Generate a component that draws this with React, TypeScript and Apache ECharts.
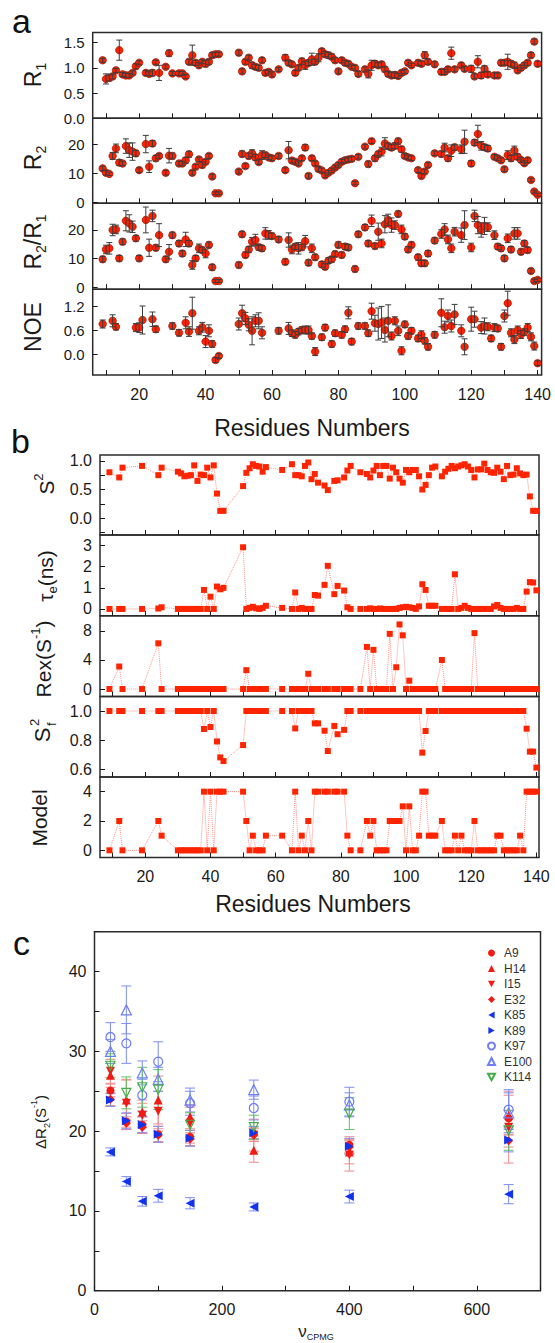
import React, { useEffect, useRef } from "react";
import * as echarts from "echarts";

const FONT = "'Liberation Sans', Arial, Helvetica, sans-serif";
const INK = "#1a1a1a";

// ---------------- Panel a : [residue, value, error] ----------------
const R1_PTS = [
  [9, 1.15, 0.04], [10, 0.78, 0.1], [11, 0.8, 0.06], [12, 0.83, 0.05], [13, 0.95, 0.04], [14, 1.35, 0.2], [15, 0.87, 0.04], [16, 0.85, 0.04], [17, 0.85, 0.04], [18, 0.9, 0.04],
  [19, 1.03, 0.05], [20, 1.1, 0.04], [22, 0.9, 0.05], [23, 0.88, 0.04], [24, 0.9, 0.06], [25, 1.11, 0.04], [26, 0.9, 0.15], [28, 1.02, 0.04],
  [29, 1.29, 0.06], [30, 0.89, 0.04], [32, 0.89, 0.04], [33, 0.89, 0.04], [34, 0.83, 0.04], [35, 1.12, 0.05], [36, 1.25, 0.2], [37, 1.1, 0.05], [38, 1.05, 0.05],
  [39, 1.12, 0.04], [40, 1.08, 0.06], [41, 1.12, 0.05], [42, 1.25, 0.05], [43, 1.27, 0.04], [44, 1.27, 0.04],
  [50, 1.3, 0.05], [51, 0.93, 0.05], [52, 1.12, 0.05], [53, 1.2, 0.05], [54, 1.05, 0.06], [55, 1.02, 0.05], [56, 1.0, 0.05], [57, 1.15, 0.05], [58, 0.9, 0.05],
  [59, 0.92, 0.04], [60, 0.87, 0.05], [62, 0.97, 0.04], [64, 1.2, 0.06], [65, 1.1, 0.05], [66, 1.07, 0.05], [67, 0.9, 0.05], [68, 1.0, 0.05],
  [69, 1.13, 0.06], [70, 1.05, 0.08], [71, 1.1, 0.06], [72, 1.17, 0.12], [73, 1.12, 0.05], [74, 1.2, 0.08], [75, 1.33, 0.05], [76, 1.27, 0.05], [77, 1.25, 0.06], [78, 1.22, 0.05],
  [79, 1.15, 0.05], [80, 0.93, 0.05], [81, 1.15, 0.05], [82, 1.1, 0.05], [83, 1.08, 0.05], [84, 1.02, 0.04], [85, 1.0, 0.05], [86, 0.88, 0.05], [88, 0.97, 0.05],
  [89, 0.88, 0.08], [90, 1.05, 0.1], [91, 1.08, 0.06], [92, 1.05, 0.05], [93, 1.07, 0.05], [94, 0.97, 0.05], [95, 0.88, 0.05], [96, 0.85, 0.05], [97, 0.86, 0.06], [98, 0.84, 0.05],
  [99, 0.9, 0.05], [100, 0.93, 0.04], [101, 1.1, 0.05], [102, 1.05, 0.04], [104, 1.1, 0.05], [105, 1.08, 0.05], [106, 1.25, 0.07], [107, 1.12, 0.05],
  [109, 1.07, 0.05], [111, 0.92, 0.05], [112, 0.92, 0.05], [113, 0.97, 0.05], [114, 1.29, 0.12], [115, 0.97, 0.05], [117, 1.05, 0.05], [118, 0.98, 0.05],
  [120, 0.98, 0.07], [121, 0.83, 0.05], [122, 1.12, 0.12], [123, 0.85, 0.06], [124, 0.98, 0.06], [125, 0.87, 0.05], [127, 0.85, 0.05], [128, 0.85, 0.05],
  [129, 1.1, 0.05], [130, 1.1, 0.05], [131, 1.12, 0.15], [132, 1.08, 0.06], [133, 1.05, 0.06], [134, 0.95, 0.05], [135, 1.0, 0.05], [136, 1.05, 0.05], [137, 1.1, 0.05], [138, 1.25, 0.05],
  [139, 1.52, 0.05], [140, 1.08, 0.05],
];

const R2_PTS = [
  [9, 11.7, 0.8], [10, 10.2, 0.8], [11, 9.8, 0.6], [12, 16.0, 1.2], [13, 18.6, 1.5], [14, 13.7, 1.0], [15, 13.4, 0.8], [16, 19.4, 2.5], [17, 18.0, 2.5], [18, 17.5, 3.0],
  [19, 16.9, 1.0], [20, 11.1, 0.8], [22, 20.1, 3.0], [23, 12.3, 2.0], [24, 20.3, 1.0], [25, 15.2, 1.0], [26, 16.0, 0.8], [28, 10.2, 0.8],
  [29, 16.1, 2.5], [30, 16.0, 1.0], [32, 13.4, 0.8], [33, 13.4, 0.8], [34, 14.5, 1.0], [35, 16.6, 1.0], [36, 10.2, 0.8], [37, 12.3, 0.8], [38, 14.8, 0.8],
  [39, 12.9, 1.0], [40, 14.0, 0.8], [41, 16.0, 0.8], [42, 8.9, 0.8], [43, 3.1, 0.5], [44, 3.1, 0.5],
  [50, 10.6, 0.8], [51, 16.7, 1.0], [52, 12.5, 0.8], [53, 16.0, 1.0], [54, 16.9, 1.2], [55, 15.5, 1.0], [56, 13.9, 0.8], [57, 16.3, 1.5], [58, 16.3, 0.8],
  [59, 15.5, 0.8], [60, 15.2, 0.8], [62, 16.0, 0.8], [64, 11.1, 0.8], [65, 18.0, 3.0], [66, 14.4, 0.8], [67, 14.0, 0.8], [68, 13.4, 0.8],
  [69, 15.2, 0.8], [70, 18.9, 1.0], [71, 9.1, 0.8], [72, 15.2, 0.8], [73, 13.4, 0.8], [74, 11.5, 0.8], [75, 11.0, 0.8], [76, 9.3, 0.8], [77, 10.2, 0.8], [78, 11.0, 0.8],
  [79, 12.0, 0.8], [80, 12.9, 0.8], [81, 14.0, 0.8], [82, 14.5, 0.8], [83, 14.8, 0.8], [84, 15.0, 0.8], [85, 6.6, 0.6], [86, 15.7, 0.8], [88, 19.2, 0.8],
  [89, 13.2, 1.0], [90, 21.1, 0.8], [91, 15.2, 1.0], [92, 16.6, 1.0], [93, 17.5, 1.5], [94, 20.3, 2.0], [95, 19.4, 1.0], [96, 18.9, 1.0], [97, 19.5, 1.0], [98, 21.1, 1.0],
  [99, 18.3, 1.0], [100, 16.0, 0.8], [101, 15.5, 0.8], [102, 15.2, 0.8], [104, 11.1, 0.8], [105, 9.1, 0.8], [106, 10.6, 0.8], [107, 12.9, 0.8],
  [109, 16.9, 0.8], [111, 16.7, 1.0], [112, 18.9, 1.5], [113, 15.2, 1.0], [114, 17.8, 2.0], [115, 19.0, 1.0], [117, 18.3, 1.5], [118, 20.9, 4.0],
  [120, 13.4, 1.0], [121, 20.6, 1.0], [122, 23.6, 3.0], [123, 19.5, 1.5], [124, 19.0, 1.0], [125, 18.6, 1.0], [127, 15.7, 0.8], [128, 15.2, 0.8],
  [129, 14.5, 0.8], [130, 11.4, 0.8], [131, 16.3, 1.5], [132, 15.2, 1.0], [133, 17.9, 1.5], [134, 15.7, 1.0], [135, 14.6, 0.8], [136, 13.5, 0.8], [137, 14.5, 0.8], [138, 7.7, 0.6],
  [139, 3.7, 0.5], [140, 2.6, 0.5],
];

const R2R1_PTS = [
  [9, 9.8, 1.0], [10, 13.2, 1.5], [11, 13.6, 2.0], [12, 20.0, 2.0], [13, 20.2, 1.5], [14, 10.1, 1.0], [15, 15.9, 1.0], [16, 23.2, 3.5], [17, 22.3, 3.0], [18, 21.1, 2.0],
  [19, 17.1, 1.0], [20, 10.1, 1.0], [22, 23.5, 4.5], [23, 13.8, 3.0], [24, 24.9, 2.0], [25, 13.8, 1.0], [26, 18.2, 4.0], [28, 9.8, 1.0],
  [29, 12.4, 2.5], [30, 18.2, 1.0], [32, 15.3, 1.0], [33, 11.8, 1.0], [34, 16.7, 2.5], [35, 15.3, 1.0], [36, 7.8, 1.5], [37, 10.1, 1.0], [38, 13.6, 1.5],
  [39, 13.0, 1.0], [40, 11.8, 1.5], [41, 14.8, 1.0], [42, 7.0, 1.0], [43, 2.2, 0.5], [44, 2.2, 0.5],
  [50, 7.8, 1.0], [51, 18.5, 1.0], [52, 11.3, 1.0], [53, 13.2, 1.0], [54, 15.9, 1.5], [55, 16.5, 2.0], [56, 14.0, 1.0], [57, 13.6, 1.0], [58, 18.8, 2.0],
  [59, 18.3, 1.5], [60, 17.9, 1.0], [62, 16.7, 1.0], [64, 8.9, 1.0], [65, 16.5, 2.5], [66, 13.2, 1.5], [67, 14.2, 1.0], [68, 13.6, 2.0],
  [69, 14.0, 1.0], [70, 16.1, 2.0], [71, 8.6, 1.0], [72, 13.6, 1.5], [73, 10.5, 1.0], [75, 8.0, 1.0], [76, 7.2, 1.0], [77, 9.3, 1.0], [78, 9.8, 1.0],
  [79, 11.6, 1.0], [80, 14.8, 1.0], [81, 11.3, 1.0], [82, 14.2, 1.0], [83, 13.9, 1.0], [85, 6.4, 1.0], [86, 18.5, 1.0], [88, 20.9, 1.0],
  [89, 15.3, 1.0], [90, 23.2, 2.0], [91, 14.4, 1.0], [92, 19.4, 3.0], [93, 15.3, 1.5], [94, 22.0, 3.0], [95, 23.5, 2.0], [96, 21.7, 2.5], [97, 21.7, 1.5], [98, 25.6, 1.0],
  [99, 20.2, 1.5], [100, 17.7, 1.0], [101, 13.2, 1.0], [102, 14.8, 1.0], [104, 10.5, 1.0], [105, 8.4, 1.0], [106, 8.4, 1.0], [107, 11.8, 1.0],
  [109, 16.3, 1.0], [111, 18.6, 1.5], [112, 20.2, 2.0], [113, 16.7, 1.5], [114, 13.6, 1.5], [115, 19.4, 1.5], [117, 18.2, 2.5], [118, 21.7, 5.0],
  [120, 13.9, 1.5], [121, 24.9, 2.0], [122, 21.7, 3.0], [123, 20.0, 2.5], [124, 21.4, 3.0], [125, 21.0, 1.5], [127, 18.2, 1.5], [128, 14.2, 1.0],
  [129, 13.6, 1.0], [130, 10.1, 1.0], [131, 17.1, 1.5], [132, 13.2, 1.0], [133, 18.8, 2.0], [134, 18.8, 2.0], [135, 12.4, 1.0], [136, 15.3, 1.0], [137, 13.0, 1.0], [138, 5.7, 0.8],
  [139, 2.2, 0.6], [140, 2.6, 0.6],
];

const NOE_PTS = [
  [9, 0.75, 0.1], [12, 0.83, 0.15], [13, 0.68, 0.08], [19, 0.66, 0.1], [20, 0.66, 0.12], [21, 0.85, 0.35], [24, 0.87, 0.18], [25, 0.62, 0.08], [30, 0.7, 0.08], [32, 0.53, 0.08],
  [34, 0.78, 0.15], [35, 0.56, 0.12], [36, 1.02, 0.4], [38, 0.58, 0.1], [39, 0.67, 0.12], [40, 0.31, 0.15], [41, 0.58, 0.15], [42, 0.25, 0.08], [43, -0.15, 0.06], [44, -0.05, 0.06],
  [50, 0.75, 0.15], [51, 1.02, 0.2], [52, 0.89, 0.15], [53, 0.73, 0.15], [54, 0.58, 0.35], [55, 0.83, 0.15], [56, 0.83, 0.2], [57, 0.53, 0.15],
  [62, 0.58, 0.08], [65, 0.64, 0.15], [66, 0.52, 0.08], [67, 0.48, 0.08], [68, 0.56, 0.08], [69, 0.6, 0.08], [70, 0.6, 0.1], [71, 0.6, 0.1], [72, 0.45, 0.08], [73, 0.06, 0.1],
  [75, 0.42, 0.08], [76, 0.66, 0.08], [78, 0.25, 0.08], [79, 0.52, 0.08], [81, 0.48, 0.08], [82, 0.62, 0.08], [83, 1.03, 0.15], [84, 0.31, 0.08], [86, 0.7, 0.08], [88, 0.7, 0.08],
  [89, 0.52, 0.08], [90, 1.07, 0.2], [91, 0.77, 0.2], [92, 0.75, 0.4], [93, 0.79, 0.4], [94, 0.6, 0.3], [95, 0.83, 0.4], [96, 0.45, 0.1], [97, 0.83, 0.1], [98, 0.58, 0.12],
  [99, 0.08, 0.1], [100, 0.74, 0.08], [101, 0.45, 0.08], [102, 0.58, 0.08], [104, 0.39, 0.08], [105, 0.48, 0.1], [106, 0.33, 0.08], [107, 0.18, 0.08], [109, 0.48, 0.08],
  [111, 1.03, 0.35], [112, 0.67, 0.15], [113, 0.95, 0.15], [114, 0.7, 0.15], [115, 0.99, 0.25], [117, 0.58, 0.15], [118, 0.18, 0.2], [120, 0.87, 0.3], [121, 0.87, 0.2],
  [123, 0.66, 0.15], [124, 0.7, 0.2], [125, 0.68, 0.1], [126, 0.39, 0.08], [127, 0.66, 0.1], [128, 0.64, 0.08], [129, 0.18, 0.08], [130, 0.95, 0.15], [131, 1.27, 0.3], [132, 0.53, 0.1],
  [133, 0.36, 0.1], [134, 0.6, 0.1], [135, 0.49, 0.1], [136, 0.55, 0.08], [137, 0.66, 0.1], [138, 0.43, 0.1], [139, 0.2, 0.1], [140, -0.23, 0.06],
];

// ---------------- Panel b ----------------
const RES_B = [
  9, 12, 13, 19, 24, 25,
  30, 31, 32, 33, 34, 35, 36, 37, 38, 39, 40, 41, 42, 43, 44,
  50, 51, 52, 53, 54, 55, 56, 57,
  62, 65, 66, 67, 68, 69, 70, 71, 72, 73,
  75, 76, 78, 79, 81, 82, 83, 86,
  88, 89, 90, 91, 92, 93, 94, 95, 96, 97, 98,
  99, 100, 101, 102, 103, 104, 105, 106, 107, 108, 109,
  111, 112, 113, 114, 115, 116, 117, 118, 119, 120,
  121, 122, 123, 124, 125, 126, 127, 128, 129, 130,
  131, 132, 133, 134, 135, 136, 137, 138, 139, 140,
];
const S2 = [
  0.8, 0.71, 0.88, 0.91, 0.75, 0.88,
  0.81, 0.78, 0.73, 0.74, 0.75, 0.92, 0.65, 0.76, 0.75, 0.88, 0.71, 0.92, 0.43, 0.13, 0.13,
  0.56, 0.79, 0.87, 0.94, 0.91, 0.9, 0.81, 0.89,
  0.84, 0.94, 0.75, 0.75, 0.73, 0.91, 0.97, 0.68, 0.77, 0.62,
  0.57, 0.49, 0.65, 0.66, 0.71, 0.83, 0.91, 0.8,
  0.77, 0.71, 0.83, 0.91, 0.75, 0.91, 0.91, 0.69, 0.88, 0.8, 0.69,
  0.62, 0.84, 0.8, 0.84, 0.84, 0.73, 0.5, 0.58, 0.75, 0.88, 0.9,
  0.73, 0.81, 0.86, 0.91, 0.87, 0.9, 0.92, 0.94, 0.9, 0.84,
  0.71, 0.85, 0.85, 0.95, 0.84, 0.8, 0.79, 0.88, 0.81, 0.68,
  0.91, 0.75, 0.76, 0.87, 0.78, 0.75, 0.76, 0.38, 0.13, 0.13,
];
const TAU_E = [
  0, 0, 0, 0, 0.02, 0.08,
  0, 0, 0, 0, 0, 0, 0, 0, 0.9, 0, 0.58, 0, 1.06, 0.93, 1.0,
  2.92, 0, 0.05, 0.1, 0.03, 0, 0.05, 0.15,
  0.05, 0, 0.78, 0, 0.05, 0, 0, 0, 0.66, 0.63,
  1.14, 2.04, 0.7, 1.09, 0.87, 0.08, 0, 0,
  0, 0.03, 0, 0, 0.02, 0, 0, 0, 0, 0, 0.05,
  0.08, 0.1, 0.08, 0.05, 0, 0.12, 1.17, 0.9, 0.15, 0.15, 0.15,
  0, 0, 0, 0, 1.64, 0, 0.05, 0.15, 0.05, 0,
  0, 0, 0, 0, 0, 0, 0.12, 0.19, 0.05, 0,
  0, 0, 0, 0.05, 0, 0, 0.82, 1.27, 1.25, 0.88,
];
const REX = [
  0, 3.1, 0, 0, 6.3, 0,
  0, 0, 0, 0, 0, 0, 0, 0, 0, 0, 0, 0, 0, 0, 0,
  0, 2.6, 0, 0, 0, 0, 0, 0,
  0, 0, 0, 0, 0, 0, 2.1, 0, 0, 0,
  0, 0, 0, 0, 0, 0, 0, 0,
  5.8, 0, 5.4, 0, 0, 0, 0, 7.6, 0, 3.0, 8.9,
  7.4, 0, 1.15, 0, 0, 0, 0, 0, 0, 0, 0,
  4.0, 0, 0, 0, 0, 0, 0, 0, 0, 0,
  7.7, 0, 0, 0, 0, 0, 0, 0, 0, 0,
  0, 0, 0, 0, 0, 0, 0, 0, 0, 0,
];
const SF2 = [
  1, 1, 1, 1, 1, 1,
  1, 1, 1, 1, 1, 1, 1, 1, 0.876, 1, 0.89, 1, 0.79, 0.68, 0.655,
  0.765, 1, 1, 1, 1, 1, 1, 1,
  1, 1, 0.88, 1, 1, 1, 1, 1, 0.915, 0.915,
  0.864, 0.724, 0.897, 0.84, 0.87, 1, 1, 1,
  1, 1, 1, 1, 1, 1, 1, 1, 1, 1, 1,
  1, 1, 1, 1, 1, 1, 0.713, 0.862, 1, 1, 1,
  1, 1, 1, 1, 1, 1, 1, 1, 1, 1,
  1, 1, 1, 1, 1, 1, 1, 1, 1, 1,
  1, 1, 1, 1, 1, 1, 0.878, 0.72, 0.72, 0.61,
];
const MODEL = [
  0, 2, 0, 0, 2, 1,
  0, 0, 0, 0, 0, 0, 0, 0, 4, 0, 4, 0, 4, 4, 4,
  4, 2, 0, 1, 0, 0, 0, 1,
  1, 0, 4, 0, 1, 0, 2, 0, 4, 4,
  4, 4, 4, 4, 4, 1, 0, 0,
  2, 1, 2, 0, 0, 0, 0, 2, 2, 2, 2,
  3, 0, 3, 0, 0, 1, 4, 4, 1, 1, 1,
  2, 0, 0, 0, 1, 0, 1, 0, 0, 0,
  2, 0, 0, 0, 0, 0, 0, 1, 1, 0,
  0, 0, 0, 0, 1, 0, 4, 4, 4, 4,
];

// ---------------- Panel c ----------------
const NU_CPMG = [25, 50, 75, 100, 150, 250, 400, 650];
const A9 = [25.1, 21.2, 20.8, 19.6, 19.3, 19.7, 18.3, 21.6];
const A9_ERR = [0.8, 1.0, 1.0, 1.0, 0.8, 0.8, 1.0, 1.0];
const H14 = [27.0, 23.9, 22.4, 23.9, 21.8, 17.6, 17.4, 22.0];
const H14_ERR = [1.5, 2.5, 1.5, 3.0, 1.5, 1.5, 1.5, 2.5];
const I15 = [27.5, 23.5, 22.0, 22.5, 21.0, 19.5, 17.0, 20.5];
const I15_ERR = [1.5, 3.0, 1.5, 2.5, 2.0, 2.0, 2.0, 4.5];
const E32 = [24.0, 21.0, 20.5, 19.5, 19.0, 19.5, 18.0, 18.8];
const E32_ERR = [0.8, 0.8, 0.8, 0.8, 0.8, 0.8, 0.8, 0.8];
const K85 = [17.4, 13.7, 11.2, 11.9, 10.96, 10.5, 11.8, 12.1];
const K85_ERR = [0.5, 0.6, 0.6, 0.8, 0.7, 0.5, 0.8, 1.2];
const K89 = [23.9, 21.3, 20.8, 19.6, 19.1, 19.8, 18.1, 18.9];
const K89_ERR = [0.8, 1.0, 1.0, 1.0, 1.0, 0.8, 1.0, 1.5];
const K97 = [31.8, 31.0, 24.5, 28.7, 23.5, 22.9, 23.7, 22.7];
const K97_ERR = [1.8, 2.5, 2.0, 2.5, 1.5, 1.5, 1.8, 2.5];
const E100 = [30.0, 35.2, 27.3, 26.5, 23.9, 25.2, 23.3, 22.3];
const E100_ERR = [1.5, 3.0, 1.5, 1.5, 1.5, 1.2, 1.5, 2.5];
const K114 = [28.2, 24.8, 25.5, 25.2, 20.8, 20.5, 22.2, 20.1];
const K114_ERR = [1.5, 2.0, 2.5, 2.5, 1.5, 1.5, 2.0, 2.5];

const X_TICKS = [10, 20, 30, 40, 50, 60, 70, 80, 90, 100, 110, 120, 130, 140];
const X_LABELS = [20, 40, 60, 80, 100, 120, 140];

// ---------------- helpers ----------------
function errorSeries(xi: number, yi: number, rows: number[][], color: string, cap: number, z: number) {
  return {
    type: "custom",
    xAxisIndex: xi,
    yAxisIndex: yi,
    silent: true,
    z,
    data: rows,
    encode: { x: 0, y: [1, 2] },
    renderItem: (params: any, api: any) => {
      const x = api.value(0);
      const lo = api.value(1);
      const hi = api.value(2);
      const a = api.coord([x, hi]);
      const b = api.coord([x, lo]);
      const st = { stroke: color, lineWidth: 1 };
      return {
        type: "group",
        children: [
          { type: "line", shape: { x1: a[0], y1: a[1], x2: b[0], y2: b[1] }, style: st },
          { type: "line", shape: { x1: a[0] - cap, y1: a[1], x2: a[0] + cap, y2: a[1] }, style: st },
          { type: "line", shape: { x1: b[0] - cap, y1: b[1], x2: b[0] + cap, y2: b[1] }, style: st },
        ],
      };
    },
  };
}

function xAxisCfg(gi: number, min: number, max: number, showLabels: boolean) {
  return {
    type: "value",
    gridIndex: gi,
    min,
    max,
    axisLine: { show: false, onZero: false },
    splitLine: { show: false },
    axisTick: { show: true, inside: true, length: 5, lineStyle: { color: INK, width: 1 }, customValues: X_TICKS },
    axisLabel: { show: showLabels, customValues: X_LABELS, fontSize: 16, fontFamily: FONT, color: INK, margin: 11 },
  };
}

function yAxisCfg(gi: number, min: number, max: number, ticks: number[], labels: number[], dec: number, fs: number) {
  return {
    type: "value",
    gridIndex: gi,
    min,
    max,
    axisLine: { show: false, onZero: false },
    splitLine: { show: false },
    axisTick: { show: true, inside: true, length: 5, lineStyle: { color: INK, width: 1 }, customValues: ticks },
    axisLabel: {
      customValues: labels,
      fontSize: fs,
      fontFamily: FONT,
      color: INK,
      margin: 8,
      formatter: (v: number) => v.toFixed(dec),
    },
  };
}

function makeRich(main: number, small: number) {
  return {
    m: { fontSize: main, fontFamily: FONT, lineHeight: main + 7, fill: INK },
    s: { fontSize: small, fontFamily: FONT, lineHeight: small, verticalAlign: "bottom", fill: INK },
    u: { fontSize: small, fontFamily: FONT, lineHeight: small + 2, verticalAlign: "top", fill: INK },
  };
}
const RICH_A = makeRich(23, 14);
const RICH_B = makeRich(21, 13);
const RICH_C = makeRich(15, 9);

function vTitle(x: number, y: number, text: string, rich: any) {
  return {
    type: "text",
    x,
    y,
    rotation: Math.PI / 2,
    silent: true,
    style: { text, rich, align: "center", verticalAlign: "middle", fill: INK },
  };
}

function buildOption() {
  const grids: any[] = [];
  const xAxes: any[] = [];
  const yAxes: any[] = [];
  const series: any[] = [];
  const graphics: any[] = [];

  // ---------- panel a ----------
  const panelA = [
    { pts: R1_PTS, top: 32.5, h: 85.8, min: 0, max: 1.7, ticks: [0.5, 1.0, 1.5], labels: [0, 0.5, 1.0, 1.5], dec: 1, title: "{m|R}{s|1}", ty: 75 },
    { pts: R2_PTS, top: 118.3, h: 85, min: -0.35, max: 29, ticks: [0, 10, 20], labels: [0, 10, 20], dec: 0, title: "{m|R}{s|2}", ty: 158 },
    { pts: R2R1_PTS, top: 203.3, h: 85.9, min: -0.65, max: 29.3, ticks: [0, 10, 20], labels: [0, 10, 20], dec: 0, title: "{m|R}{s|2}{m|/R}{s|1}", ty: 242 },
    { pts: NOE_PTS, top: 289.2, h: 85.8, min: -0.525, max: 1.62, ticks: [0, 0.6, 1.2], labels: [0, 0.6, 1.2], dec: 1, title: "{m|NOE}", ty: 327 },
  ];
  panelA.forEach((p, i) => {
    const gi = grids.length;
    grids.push({ left: 92.7, top: p.top, width: 448.9, height: p.h, show: true, borderColor: "#2b2b2b", borderWidth: 1.5, backgroundColor: "transparent" });
    xAxes.push(xAxisCfg(gi, 6, 141.2, i === panelA.length - 1));
    yAxes.push(yAxisCfg(gi, p.min, p.max, p.ticks, p.labels, p.dec, 15));
    series.push({
      type: "scatter",
      xAxisIndex: gi,
      yAxisIndex: gi,
      symbol: "circle",
      symbolSize: 7.5,
      z: 3,
      itemStyle: { color: "#ff2200", borderColor: "#9a1200", borderWidth: 0.7, opacity: 1 },
      data: p.pts.map((r) => [r[0], r[1]]),
    });
    series.push(errorSeries(gi, gi, p.pts.map((r) => [r[0], r[1] - r[2], r[1] + r[2]]), "#3c3c3c", 3, 4));
    graphics.push(vTitle(33, p.ty, p.title, RICH_A));
  });
  graphics.push({ type: "text", x: 312, y: 428, silent: true, style: { text: "Residues Numbers", font: `23px ${FONT}`, fill: INK, align: "center", verticalAlign: "middle" } });

  // ---------- panel b ----------
  const panelB = [
    { vals: S2, top: 455, h: 80, min: -0.29, max: 1.1, ticks: [-0.25, 0, 0.25, 0.5, 0.75, 1.0], labels: [0, 0.5, 1.0], dec: 1, title: "{m|S}{u|2}", tx: 46, ty: 484 },
    { vals: TAU_E, top: 535, h: 80.7, min: -0.32, max: 3.5, ticks: [0, 1, 2, 3], labels: [0, 1, 2, 3], dec: 0, title: "{m|τ}{s|e}{m|(ns)}", tx: 45, ty: 576 },
    { vals: REX, top: 615.7, h: 80.8, min: -1.03, max: 10.1, ticks: [0, 4, 8], labels: [0, 4, 8], dec: 0, title: "{m|Rex(S}{u|-1}{m|)}", tx: 43, ty: 659 },
    { vals: SF2, top: 696.5, h: 80.5, min: 0.545, max: 1.1, ticks: [0.6, 0.8, 1.0], labels: [0.6, 0.8, 1.0], dec: 1, title: "", tx: 42, ty: 730 },
    { vals: MODEL, top: 777, h: 80.5, min: -0.49, max: 5.0, ticks: [0, 2, 4], labels: [0, 2, 4], dec: 0, title: "{m|Model}", tx: 39, ty: 818 },
  ];
  panelB.forEach((p, i) => {
    const gi = grids.length;
    grids.push({ left: 100, top: p.top, width: 439, height: p.h, show: true, borderColor: "#2b2b2b", borderWidth: 1.5, backgroundColor: "transparent" });
    xAxes.push(xAxisCfg(gi, 6.1, 140.8, i === panelB.length - 1));
    yAxes.push(yAxisCfg(gi, p.min, p.max, p.ticks, p.labels, p.dec, 16));
    series.push({
      type: "line",
      xAxisIndex: gi,
      yAxisIndex: gi,
      symbol: "rect",
      symbolSize: 6,
      showSymbol: true,
      z: 3,
      itemStyle: { color: "#ff2400" },
      lineStyle: { color: "#ff8f85", width: 1, type: "dotted" },
      data: RES_B.map((r, k) => [r, p.vals[k]]),
    });
    if (p.title) graphics.push(vTitle(p.tx, p.ty, p.title, RICH_B));
  });
  // S_f^2 title (stacked sub/superscript)
  graphics.push({
    type: "group",
    x: 42,
    y: 731,
    rotation: Math.PI / 2,
    silent: true,
    children: [
      { type: "text", x: -4, y: 0, style: { text: "S", font: `22px ${FONT}`, fill: INK, align: "center", verticalAlign: "middle" } },
      { type: "text", x: 5, y: -8, style: { text: "2", font: `13px ${FONT}`, fill: INK, align: "left", verticalAlign: "middle" } },
      { type: "text", x: 5, y: 9, style: { text: "f", font: `13px ${FONT}`, fill: INK, align: "left", verticalAlign: "middle" } },
    ],
  });
  graphics.push({ type: "text", x: 313, y: 904, silent: true, style: { text: "Residues Numbers", font: `23px ${FONT}`, fill: INK, align: "center", verticalAlign: "middle" } });

  // ---------- panel c ----------
  const gc = grids.length;
  grids.push({ left: 94.5, top: 931.7, width: 446, height: 359, show: true, borderColor: "#2b2b2b", borderWidth: 1.5, backgroundColor: "transparent" });
  xAxes.push({
    type: "value",
    gridIndex: gc,
    min: 0,
    max: 700,
    interval: 100,
    axisLine: { show: false, onZero: false },
    splitLine: { show: false },
    axisTick: { inside: true, length: 5, lineStyle: { color: INK } },
    axisLabel: { fontSize: 16, fontFamily: FONT, color: INK, margin: 11, formatter: (v: number) => (v % 200 === 0 ? String(v) : "") },
  });
  yAxes.push({
    type: "value",
    gridIndex: gc,
    min: 0,
    max: 45,
    interval: 5,
    axisLine: { show: false, onZero: false },
    splitLine: { show: false },
    axisTick: { inside: true, length: 5, lineStyle: { color: INK } },
    axisLabel: { fontSize: 16, fontFamily: FONT, color: INK, margin: 8, formatter: (v: number) => (v % 10 === 0 ? String(v) : "") },
  });

  const RED = "#f01b14";
  const BLUE = "#1233ee";
  const LBLUE = "#6f7ef2";
  const GREEN = "#45ad4b";
  const SYM_DOWN = "path://M0,0L10,0L5,9Z";
  const SYM_LEFT = "path://M9,0L9,10L0,5Z";
  const SYM_RIGHT = "path://M0,0L0,10L9,5Z";
  const hollow = "rgba(255,255,255,0)";
  const cSeries = [
    { name: "A9", v: A9, e: A9_ERR, sym: "circle", size: 8, fill: RED, stroke: RED, ec: "#f28b8b" },
    { name: "H14", v: H14, e: H14_ERR, sym: "triangle", size: 9, fill: RED, stroke: RED, ec: "#f28b8b" },
    { name: "I15", v: I15, e: I15_ERR, sym: SYM_DOWN, size: 9, fill: RED, stroke: RED, ec: "#f28b8b" },
    { name: "E32", v: E32, e: E32_ERR, sym: "diamond", size: 9, fill: RED, stroke: RED, ec: "#f28b8b" },
    { name: "K85", v: K85, e: K85_ERR, sym: SYM_LEFT, size: 9, fill: BLUE, stroke: BLUE, ec: "#7d8df3" },
    { name: "K89", v: K89, e: K89_ERR, sym: SYM_RIGHT, size: 9, fill: BLUE, stroke: BLUE, ec: "#7d8df3" },
    { name: "K97", v: K97, e: K97_ERR, sym: "circle", size: 9, fill: hollow, stroke: LBLUE, ec: "#7d8df3" },
    { name: "E100", v: E100, e: E100_ERR, sym: "triangle", size: 10, fill: hollow, stroke: LBLUE, ec: "#7d8df3" },
    { name: "K114", v: K114, e: K114_ERR, sym: SYM_DOWN, size: 9, fill: hollow, stroke: GREEN, ec: "#62c066" },
  ];
  cSeries.forEach((s) => {
    series.push(errorSeries(gc, gc, NU_CPMG.map((x, k) => [x, s.v[k] - s.e[k], s.v[k] + s.e[k]]), s.ec, 5, 2));
  });
  cSeries.forEach((s) => {
    series.push({
      name: s.name,
      type: "scatter",
      xAxisIndex: gc,
      yAxisIndex: gc,
      symbol: s.sym,
      symbolSize: s.size,
      z: 3,
      itemStyle: { color: s.fill, borderColor: s.stroke, borderWidth: s.fill === hollow ? 1.2 : 0, opacity: 1 },
      data: NU_CPMG.map((x, k) => [x, s.v[k]]),
    });
  });

  graphics.push(vTitle(40, 1122, "{m|ΔR}{s|2}{m|(S}{u|-1}{m|)}", RICH_C));
  graphics.push({
    type: "text",
    x: 316,
    y: 1331,
    silent: true,
    style: {
      text: "{n|ν}{k|CPMG}",
      align: "center",
      verticalAlign: "middle",
      rich: {
        n: { fontSize: 17, fontFamily: FONT, lineHeight: 20, fill: INK },
        k: { fontSize: 9, fontFamily: FONT, lineHeight: 9, verticalAlign: "bottom", fill: INK },
      },
    },
  });

  // panel letters
  graphics.push({ type: "text", x: 12, y: 21, silent: true, style: { text: "a", font: `34px ${FONT}`, fill: "#111", align: "left", verticalAlign: "middle" } });
  graphics.push({ type: "text", x: 11, y: 441, silent: true, style: { text: "b", font: `34px ${FONT}`, fill: "#111", align: "left", verticalAlign: "middle" } });
  graphics.push({ type: "text", x: 13, y: 943, silent: true, style: { text: "c", font: `34px ${FONT}`, fill: "#111", align: "left", verticalAlign: "middle" } });

  return {
    animation: false,
    backgroundColor: "#ffffff",
    grid: grids,
    xAxis: xAxes,
    yAxis: yAxes,
    series,
    legend: {
      data: cSeries.map((s) => s.name),
      orient: "vertical",
      left: 482,
      top: 941,
      itemWidth: 7,
      itemHeight: 7,
      itemGap: 1.5,
      selectedMode: false,
      textStyle: { fontSize: 12, fontFamily: FONT, color: "#333", lineHeight: 14, padding: [0, 0, 0, 4] },
    },
    graphic: graphics,
  };
}

export default function App() {
  const ref = useRef<HTMLDivElement>(null);
  useEffect(() => {
    const chart = echarts.init(ref.current as HTMLDivElement, null, { renderer: "svg" });
    chart.setOption(buildOption() as any);
    return () => chart.dispose();
  }, []);
  return (
    <div
      ref={ref}
      style={{ position: "absolute", left: 0, top: 0, width: 555, height: 1343, background: "#ffffff" }}
    />
  );
}
